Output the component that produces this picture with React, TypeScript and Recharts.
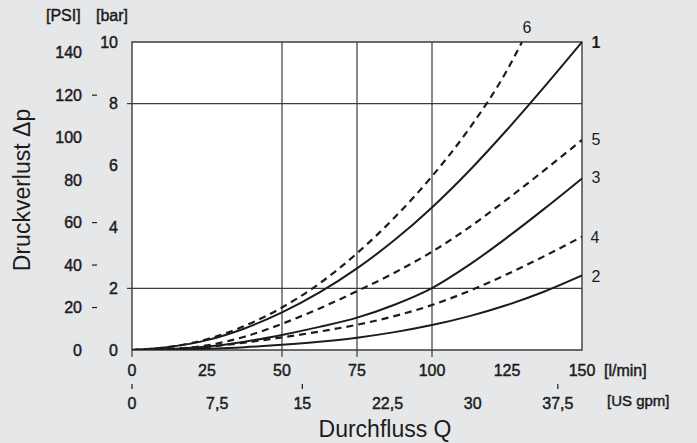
import React from 'react';
import {
  LineChart,
  Line,
  XAxis,
  YAxis,
  CartesianGrid,
  ReferenceLine,
  ReferenceArea,
  ReferenceDot,
} from 'recharts';

// ---- data ----
const flowLpm = [0, 12.5, 25, 37.5, 50, 62.5, 75, 87.5, 100, 112.5, 125, 137.5, 150];
const curve1 = [0, 0.1, 0.32, 0.7, 1.22, 1.87, 2.65, 3.57, 4.63, 5.83, 7.15, 8.55, 10];
const curve2 = [0, 0.01, 0.04, 0.09, 0.17, 0.27, 0.4, 0.58, 0.81, 1.1, 1.46, 1.9, 2.42];
const curve3 = [0, 0.03, 0.11, 0.27, 0.49, 0.75, 1.05, 1.47, 2.01, 2.77, 3.65, 4.59, 5.57];
const curve4 = [0, 0.02, 0.1, 0.24, 0.41, 0.6, 0.82, 1.1, 1.46, 1.92, 2.46, 3.05, 3.68];
const curve5 = [0, 0.03, 0.15, 0.43, 0.85, 1.35, 1.91, 2.51, 3.19, 3.99, 4.89, 5.84, 6.82];
const flow6 = [0, 12.5, 25, 37.5, 50, 62.5, 75, 87.5, 100, 112.5, 125, 130];
const curve6 = [0, 0.1, 0.35, 0.78, 1.38, 2.16, 3.14, 4.3, 5.64, 7.2, 9.08, 10];

const lpmTicks = [0, 25, 50, 75, 100, 125, 150];
const gpmTicks = [0, 7.5, 15, 22.5, 30, 37.5];
const barTicks = [0, 2, 4, 6, 8, 10];
const psiTicks = [0, 20, 40, 60, 80, 100, 120, 140];
const gridLpm = [50, 75, 100];
const gridBar = [2, 8];
const psiDashTicks = [20, 40, 60, 120];
const gpmMarkTicks = [0, 15, 37.5];
const lpmMarkTicks = [0, 50, 75, 100];

const LPM_PER_GPM = 3.785;
const BAR_TO_PSI = 14.504;

const mainData = flowLpm.map((q, i) => ({
  q,
  gpm: q / LPM_PER_GPM,
  psi: curve1[i] * BAR_TO_PSI,
  c1: curve1[i],
  c2: curve2[i],
  c3: curve3[i],
  c4: curve4[i],
  c5: curve5[i],
}));
const data6 = flow6.map((q, i) => ({ q, c6: curve6[i] }));

const BG = '#e6e7e9';
const INK = '#1c1c1c';
const GRID = '#3c3c3c';
const FONT = '"Liberation Sans", Arial, Helvetica, sans-serif';

const tickText = {
  fontFamily: FONT,
  fontSize: 16,
  fill: INK,
  stroke: INK,
  strokeWidth: 0.45,
} as const;

const fmt = (v: number) => String(v).replace('.', ',');

const BarTick = (props: any) => {
  const { y, payload } = props;
  const v = payload.value;
  return (
    <g>
      {gridBar.includes(v) && (
        <line x1={127} x2={132} y1={y} y2={y} stroke={GRID} strokeWidth={1.2} />
      )}
      <text x={118} y={y} dy="0.36em" textAnchor="end" {...tickText}>
        {v}
      </text>
    </g>
  );
};

const PsiTick = (props: any) => {
  const { y, payload } = props;
  const v = payload.value;
  return (
    <g>
      {psiDashTicks.includes(v) && (
        <line x1={92} x2={97} y1={y} y2={y} stroke={INK} strokeWidth={1.2} />
      )}
      <text x={82} y={y} dy="0.36em" textAnchor="end" {...tickText}>
        {v}
      </text>
    </g>
  );
};

const LpmTick = (props: any) => {
  const { x, payload } = props;
  const v = payload.value;
  return (
    <g>
      {lpmMarkTicks.includes(v) && (
        <line x1={x} x2={x} y1={350} y2={357} stroke={GRID} strokeWidth={1.2} />
      )}
      <text x={x} y={370} dy="0.36em" textAnchor="middle" {...tickText}>
        {fmt(v)}
      </text>
    </g>
  );
};

const GpmTick = (props: any) => {
  const { x, payload } = props;
  const v = payload.value;
  return (
    <g>
      {gpmMarkTicks.includes(v) && (
        <line x1={x} x2={x} y1={384} y2={389} stroke={INK} strokeWidth={1.2} />
      )}
      <text x={x} y={403} dy="0.36em" textAnchor="middle" {...tickText}>
        {fmt(v)}
      </text>
    </g>
  );
};

const seriesLabel = (name: string, dx: number, dy: number, bold = false) => ({
  content: (p: any) => {
    const vb = p.viewBox || {};
    return (
      <text
        x={(vb.x || 0) + dx}
        y={(vb.y || 0) + dy}
        dy="0.36em"
        textAnchor="middle"
        fontFamily={FONT}
        fontSize={16}
        fill={INK}
        fontWeight={bold ? 'bold' : 'normal'}
      >
        {name}
      </text>
    );
  },
});

const last = flowLpm.length - 1;
const last6 = flow6.length - 1;

const unitLpm = '[l/min]';
const unitGpm = '[US gpm]';

export default function App() {
  return (
    <div
      style={{
        position: 'absolute',
        left: 0,
        top: 0,
        width: 697,
        height: 443,
        background: BG,
        overflow: 'hidden',
      }}
    >
      <LineChart
        width={697}
        height={443}
        data={mainData}
        margin={{ top: 42, right: 115, bottom: 0, left: 0 }}
      >
        <CartesianGrid xAxisId="lpm" yAxisId="bar" fill="#ffffff" horizontal={false} vertical={false} />
        <XAxis
          xAxisId="lpm"
          dataKey="q"
          type="number"
          domain={[0, 150]}
          ticks={lpmTicks}
          allowDataOverflow
          axisLine={false}
          tickLine={false}
          tick={<LpmTick />}
          height={50}
          interval={0}
        />
        <XAxis
          xAxisId="gpm"
          dataKey="gpm"
          type="number"
          domain={[0, 150 / LPM_PER_GPM]}
          ticks={gpmTicks}
          allowDataOverflow
          axisLine={false}
          tickLine={false}
          tick={<GpmTick />}
          height={43}
          interval={0}
        />
        <YAxis
          yAxisId="bar"
          type="number"
          domain={[0, 10]}
          ticks={barTicks}
          allowDataOverflow
          axisLine={false}
          tickLine={false}
          tick={<BarTick />}
          width={131}
          interval={0}
        />
        <YAxis
          yAxisId="psi"
          dataKey="psi"
          type="number"
          domain={[0, 10 * BAR_TO_PSI]}
          ticks={psiTicks}
          allowDataOverflow
          axisLine={false}
          tickLine={false}
          tick={<PsiTick />}
          width={1}
          interval={0}
        />
        {gridLpm.map((v) => (
          <ReferenceLine
            key={'vx' + v}
            xAxisId="lpm"
            yAxisId="bar"
            x={v}
            stroke={GRID}
            strokeWidth={1.2}
          />
        ))}
        {gridBar.map((v) => (
          <ReferenceLine
            key={'hy' + v}
            xAxisId="lpm"
            yAxisId="bar"
            y={v}
            stroke={GRID}
            strokeWidth={1.2}
          />
        ))}
        <ReferenceArea
          xAxisId="lpm"
          yAxisId="bar"
          x1={0}
          x2={150}
          y1={0}
          y2={10}
          fill="none"
          fillOpacity={0}
          stroke={GRID}
          strokeWidth={1.4}
        />
        <Line xAxisId="lpm" yAxisId="bar" type="monotone" dataKey="c1" stroke={INK} strokeWidth={2} dot={false} isAnimationActive={false} />
        <Line xAxisId="lpm" yAxisId="bar" type="monotone" dataKey="c2" stroke={INK} strokeWidth={2} dot={false} isAnimationActive={false} />
        <Line xAxisId="lpm" yAxisId="bar" type="monotone" dataKey="c3" stroke={INK} strokeWidth={2} dot={false} isAnimationActive={false} />
        <Line xAxisId="lpm" yAxisId="bar" type="monotone" dataKey="c4" stroke={INK} strokeWidth={2.2} strokeDasharray="7 5" dot={false} isAnimationActive={false} />
        <Line xAxisId="lpm" yAxisId="bar" type="monotone" dataKey="c5" stroke={INK} strokeWidth={2.2} strokeDasharray="7 5" dot={false} isAnimationActive={false} />
        <Line xAxisId="lpm" yAxisId="bar" type="monotone" data={data6} dataKey="c6" stroke={INK} strokeWidth={2.2} strokeDasharray="7 5" dot={false} isAnimationActive={false} />

        <ReferenceDot xAxisId="lpm" yAxisId="bar" x={flowLpm[last]} y={curve1[last]} r={0} fill="none" stroke="none" label={seriesLabel('1', 14, 0, true)} />
        <ReferenceDot xAxisId="lpm" yAxisId="bar" x={flowLpm[last]} y={curve2[last]} r={0} fill="none" stroke="none" label={seriesLabel('2', 14, 1)} />
        <ReferenceDot xAxisId="lpm" yAxisId="bar" x={flowLpm[last]} y={curve3[last]} r={0} fill="none" stroke="none" label={seriesLabel('3', 14, -1)} />
        <ReferenceDot xAxisId="lpm" yAxisId="bar" x={flowLpm[last]} y={curve4[last]} r={0} fill="none" stroke="none" label={seriesLabel('4', 13, 1)} />
        <ReferenceDot xAxisId="lpm" yAxisId="bar" x={flowLpm[last]} y={curve5[last]} r={0} fill="none" stroke="none" label={seriesLabel('5', 14, -1)} />
        <ReferenceDot xAxisId="lpm" yAxisId="bar" x={flow6[last6]} y={curve6[last6]} r={0} fill="none" stroke="none" label={seriesLabel('6', 5, -15)} />
      </LineChart>
      <svg
        width={697}
        height={443}
        style={{ position: 'absolute', left: 0, top: 0, pointerEvents: 'none' }}
      >
        <text x={46} y={15} dy="0.36em" {...tickText}>[PSI]</text>
        <text x={96} y={15} dy="0.36em" {...tickText}>[bar]</text>
        <text x={604} y={370} dy="0.36em" {...tickText}>{unitLpm}</text>
        <text x={607} y={401} dy="0.36em" fontFamily={FONT} fontSize={15} fill={INK} stroke={INK} strokeWidth={0.45}>
          {unitGpm}
        </text>
        <text
          x={385}
          y={429}
          dy="0.36em"
          textAnchor="middle"
          fontFamily={FONT}
          fontSize={23}
          fill={INK}
        >
          Durchfluss Q
        </text>
        <text
          transform="translate(22,190) rotate(-90)"
          x={0}
          y={0}
          dy="0.36em"
          textAnchor="middle"
          fontFamily={FONT}
          fontSize={23}
          fill={INK}
        >
          Druckverlust Δp
        </text>
      </svg>
    </div>
  );
}
